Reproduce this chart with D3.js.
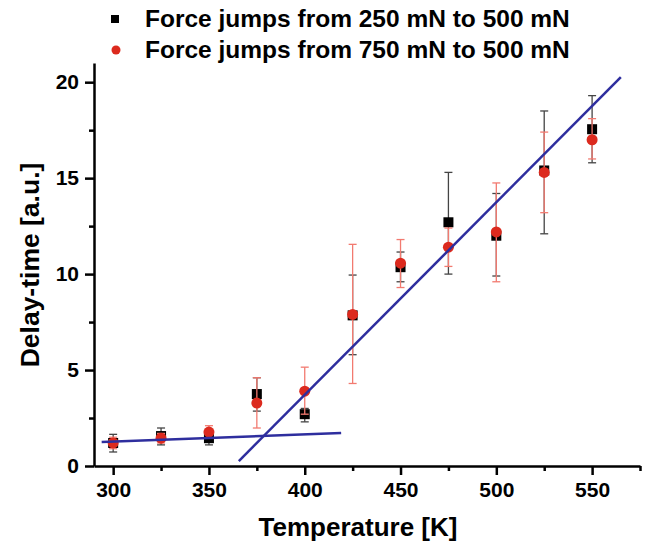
<!DOCTYPE html>
<html>
<head>
<meta charset="utf-8">
<script src="https://cdn.jsdelivr.net/npm/d3@7"></script>
<style>
  body { margin: 0; background: #fff; }
  text { font-family: "Liberation Sans", Arial, sans-serif; font-weight: bold; }
</style>
</head>
<body>
<svg id="chart" width="652" height="552"></svg>
<script>
// temperatures [K]
const temps = [300, 325, 350, 375, 400, 425, 450, 475, 500, 525, 550];

// force jumps 250 -> 500 mN (black squares)
const lowMean  = [1.2, 1.56, 1.45, 3.75, 2.7, 7.85, 10.36, 12.7, 12.0, 15.4, 17.55];
const lowTop   = [1.65, 1.98, 1.75, 4.6, 3.0, 9.95, 11.15, 15.3, 14.2, 18.5, 19.3];
const lowBot   = [0.73, 1.1, 1.1, 2.86, 2.3, 5.8, 9.6, 10.0, 9.9, 12.1, 15.8];

// force jumps 750 -> 500 mN (red circles)
const highMean = [1.2, 1.45, 1.77, 3.28, 3.9, 7.9, 10.57, 11.4, 12.2, 15.3, 17.0];
const highTop  = [1.5, 1.7, 2.1, 4.6, 5.15, 11.55, 11.8, 12.4, 14.75, 17.4, 18.1];
const highBot  = [0.9, 1.2, 1.45, 1.98, 2.7, 4.3, 9.3, 10.4, 9.6, 13.2, 16.0];

// fitted lines (end points: temperature, delay-time)
const fitLow  = [[294, 1.25], [419, 1.72]];
const fitHigh = [[365.6, 0.26], [565, 20.26]];

const xMajor = [300, 350, 400, 450, 500, 550];
const xMinor = [325, 375, 425, 475, 525, 575];
const yMajor = [0, 5, 10, 15, 20];
const yMinor = [2.5, 7.5, 12.5, 17.5];

const legendLabels = ["Force jumps from 250 mN to 500 mN", "Force jumps from 750 mN to 500 mN"];

const svg = d3.select("#chart");

const x = d3.scaleLinear().domain([290, 575]).range([94, 640]);
const y = d3.scaleLinear().domain([0, 21]).range([466, 63]);

// minor ticks first
svg.append("g")
    .attr("transform", "translate(0,466)")
    .call(d3.axisBottom(x).tickValues(xMinor).tickSize(5).tickFormat(""))
    .call(g => g.select(".domain").remove())
    .selectAll("line").attr("stroke-width", 2.5);
svg.append("g")
    .attr("transform", "translate(94,0)")
    .call(d3.axisLeft(y).tickValues(yMinor).tickSize(5).tickFormat(""))
    .call(g => g.select(".domain").remove())
    .selectAll("line").attr("stroke-width", 2.5);

// major axes
const xAxis = svg.append("g")
    .attr("transform", "translate(0,466)")
    .call(d3.axisBottom(x).tickValues(xMajor).tickSize(9).tickSizeOuter(0).tickPadding(7));
const yAxis = svg.append("g")
    .attr("transform", "translate(94,0)")
    .call(d3.axisLeft(y).tickValues(yMajor).tickSize(9).tickSizeOuter(0).tickPadding(6));

[xAxis, yAxis].forEach(a => {
    a.select(".domain").attr("stroke-width", 2.5);
    a.selectAll("line").attr("stroke-width", 2.5);
    a.selectAll("text").style("font-size", "21px").attr("fill", "#000");
});

// axis titles
svg.append("text")
    .attr("x", 358).attr("y", 536)
    .attr("text-anchor", "middle")
    .style("font-size", "26px")
    .text("Temperature [K]");
svg.append("text")
    .attr("transform", "translate(39,265) rotate(-90)")
    .attr("text-anchor", "middle")
    .style("font-size", "26.5px")
    .text("Delay-time [a.u.]");

// error bars
function errorBars(tops, bots, color, width) {
    const g = svg.append("g").attr("stroke", color).attr("stroke-width", width).attr("fill", "none");
    temps.forEach((t, i) => {
        const cx = x(t);
        g.append("line").attr("x1", cx).attr("x2", cx).attr("y1", y(tops[i])).attr("y2", y(bots[i]));
        g.append("line").attr("x1", cx - 4).attr("x2", cx + 4).attr("y1", y(tops[i])).attr("y2", y(tops[i]));
        g.append("line").attr("x1", cx - 4).attr("x2", cx + 4).attr("y1", y(bots[i])).attr("y2", y(bots[i]));
    });
}

errorBars(lowTop, lowBot, "#444", 1.3);

svg.append("g").selectAll("rect")
    .data(temps)
    .join("rect")
    .attr("x", (d, i) => x(d) - 5)
    .attr("y", (d, i) => y(lowMean[i]) - 5)
    .attr("width", 10).attr("height", 10)
    .attr("fill", "#000");

errorBars(highTop, highBot, "#f27a70", 1.3);

svg.append("g").selectAll("circle")
    .data(temps)
    .join("circle")
    .attr("cx", d => x(d))
    .attr("cy", (d, i) => y(highMean[i]))
    .attr("r", 5.5)
    .attr("fill", "#dc2a1e");

// fit lines
const line = d3.line().x(d => x(d[0])).y(d => y(d[1]));
[fitLow, fitHigh].forEach(f => {
    svg.append("path")
        .attr("d", line(f))
        .attr("fill", "none")
        .attr("stroke", "#2e2e9e")
        .attr("stroke-width", 2.5);
});

// legend
svg.append("rect").attr("x", 111).attr("y", 15).attr("width", 8).attr("height", 8).attr("fill", "#000");
svg.append("circle").attr("cx", 116).attr("cy", 50).attr("r", 4.5).attr("fill", "#dc2a1e");
legendLabels.forEach((l, i) => {
    svg.append("text")
        .attr("x", 145).attr("y", 27 + i * 31)
        .style("font-size", "24.5px")
        .text(l);
});
</script>
</body>
</html>
